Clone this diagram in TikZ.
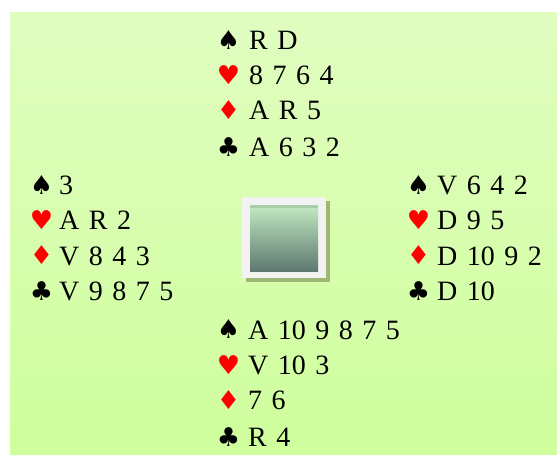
\documentclass[tikz,border=0pt]{standalone}
\usepackage{fontspec}
\setmainfont{Liberation Serif}
\newfontfamily\suitfont{DejaVu Sans}
\newcommand\cardfont{\fontsize{28}{28}\selectfont\spaceskip 9.5pt\relax}
\definecolor{bgtop}{RGB}{224,253,192}
\definecolor{bgbot}{RGB}{207,254,157}
\definecolor{frame}{RGB}{242,242,242}
\definecolor{shadow}{RGB}{156,184,116}
\definecolor{intop}{RGB}{194,234,194}
\definecolor{inbot}{RGB}{94,120,112}
\definecolor{inband}{RGB}{168,208,168}
\definecolor{suitred}{RGB}{255,0,0}
\tikzset{
  suitsym/.style={anchor=center, inner sep=0pt, font=\suitfont\fontsize{26}{26}\selectfont},
  redsuit/.style={suitsym, text=suitred},
  cardtxt/.style={anchor=base west, inner sep=0pt, font=\cardfont}
}
\begin{document}
\begin{tikzpicture}[x=1pt,y=-1pt]
\useasboundingbox (0,0) rectangle (560,455);
\shade[top color=bgtop, bottom color=bgbot] (10,12) rectangle (557,455);
% central board
\fill[shadow] (246,201) rectangle (330,282);
\fill[frame] (242,197) rectangle (326,278);
\shade[top color=intop, bottom color=inbot] (250,205) rectangle (318,271);
\fill[inband] (250,205) rectangle (318,208);
% North
\node[suitsym] (ns) at (228.5,40) {♠};
\node[cardtxt] (nst) at (249,49.5) {R D};
\node[redsuit] (nh) at (228.5,75) {♥};
\node[cardtxt] (nht) at (249,84.5) {8 7 6 4};
\node[redsuit] (nd) at (228.5,110) {♦};
\node[cardtxt] (ndt) at (249,119.5) {A R 5};
\node[suitsym] (nc) at (228.5,147) {♣};
\node[cardtxt] (nct) at (249,156.5) {A 6 3 2};
% West
\node[suitsym] (ws) at (41.5,185) {♠};
\node[cardtxt] (wst) at (59,194.5) {3};
\node[redsuit] (wh) at (41.5,220) {♥};
\node[cardtxt] (wht) at (59,229.5) {A R 2};
\node[redsuit] (wd) at (41.5,255.5) {♦};
\node[cardtxt] (wdt) at (59,265) {V 8 4 3};
\node[suitsym] (wc) at (41.5,291) {♣};
\node[cardtxt] (wct) at (59,300.5) {V 9 8 7 5};
% East
\node[suitsym] (es) at (418.5,185) {♠};
\node[cardtxt] (est) at (437,194.5) {V 6 4 2};
\node[redsuit] (eh) at (418.5,220) {♥};
\node[cardtxt] (eht) at (437,229.5) {D 9 5};
\node[redsuit] (ed) at (418.5,255.5) {♦};
\node[cardtxt] (edt) at (437,265) {D 10 9 2};
\node[suitsym] (ec) at (418.5,291) {♣};
\node[cardtxt] (ect) at (437,300.5) {D 10};
% South
\node[suitsym] (ss) at (228.5,329.5) {♠};
\node[cardtxt] (sst) at (248,339) {A 10 9 8 7 5};
\node[redsuit] (sh) at (228.5,365) {♥};
\node[cardtxt] (sht) at (248,374.5) {V 10 3};
\node[redsuit] (sd) at (228.5,400) {♦};
\node[cardtxt] (sdt) at (248,409.5) {7 6};
\node[suitsym] (sc) at (228.5,437) {♣};
\node[cardtxt] (sct) at (248,446.5) {R 4};
\end{tikzpicture}
\end{document}
